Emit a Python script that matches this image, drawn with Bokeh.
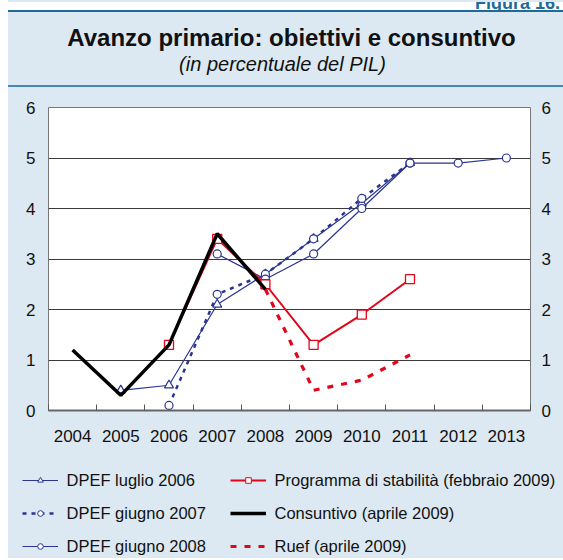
import numpy as np
from bokeh.plotting import figure
from bokeh.models import Range1d, FixedTicker, LinearAxis, Legend, LegendItem, Div, Spacer
from bokeh.layouts import column, row
from bokeh.embed import file_html
from bokeh.resources import INLINE
from bokeh.core.properties import value

# ---------------- data ----------------
years = [2004, 2005, 2006, 2007, 2008, 2009, 2010, 2011, 2012, 2013]
year_labels = ["2004", "2005", "2006", "2007", "2008", "2009", "2010", "2011", "2012", "2013"]
y_ticks = [0, 1, 2, 3, 4, 5, 6]

lug2006_x = [2005, 2006, 2007, 2008, 2009, 2010, 2011]
lug2006_y = [0.4, 0.5, 2.1, 2.7, 3.4, 4.1, 4.9]

giu2007_x = [2006, 2007, 2008, 2009, 2010, 2011]
giu2007_y = [0.1, 2.3, 2.7, 3.4, 4.2, 4.9]

giu2008_x = [2007, 2008, 2009, 2010, 2011, 2012, 2013]
giu2008_y = [3.1, 2.6, 3.1, 4.0, 4.9, 4.9, 5.0]

prog_x = [2006, 2007, 2008, 2009, 2010, 2011]
prog_y = [1.3, 3.4, 2.5, 1.3, 1.9, 2.6]

cons_x = [2004, 2005, 2006, 2007, 2008]
cons_y = [1.2, 0.3, 1.3, 3.5, 2.4]

ruef_x = [2008, 2009, 2010, 2011]
ruef_y = [2.4, 0.4, 0.6, 1.1]

figure_tag = "Figura 16."
title_text = "Avanzo primario: obiettivi e consuntivo"
subtitle_text = "(in percentuale del PIL)"
legend_labels = ["DPEF luglio 2006", "DPEF giugno 2007", "DPEF giugno 2008",
                 "Programma di stabilità (febbraio 2009)", "Consuntivo (aprile 2009)",
                 "Ruef (aprile 2009)"]

# ---------------- styles ----------------
BG = "#dde9f2"
BLUE = "#2a3590"
RED = "#e3051b"
FONT = value("Liberation Sans")

series_styles = [
    dict(line=dict(line_color=BLUE, line_width=1.2),
         marker=dict(marker="triangle", size=9, line_color=BLUE, fill_color="white", line_width=1.2)),
    dict(line=dict(line_color=BLUE, line_width=2.5, line_dash="4 5"),
         marker=dict(marker="circle", size=8, line_color=BLUE, fill_color="white", line_width=1.2)),
    dict(line=dict(line_color=BLUE, line_width=1.2),
         marker=dict(marker="circle", size=8, line_color=BLUE, fill_color="white", line_width=1.2)),
    dict(line=dict(line_color=RED, line_width=2),
         marker=dict(marker="square", size=9, line_color=RED, fill_color="white", line_width=1.3)),
    dict(line=dict(line_color="#000000", line_width=3.5), marker=None),
    dict(line=dict(line_color=RED, line_width=3.2, line_dash="6 8"), marker=None),
]

# ---------------- top strip ----------------
top_div = Div(
    text=('<div style="position:relative;width:555px;height:10px;overflow:hidden;'
          'border-bottom:2px solid #1f6a96;background:#ffffff;">'
          '<span style="position:absolute;right:3px;top:-11px;font-family:\'Liberation Sans\';'
          'font-weight:bold;font-size:18px;color:#1f6a96;white-space:nowrap;">'
          + figure_tag + '</span></div>'),
    width=555, height=12, margin=0)

# ---------------- header ----------------
hdr = figure(width=555, height=73, x_range=Range1d(0, 482), y_range=Range1d(73, 0),
             output_backend="svg", toolbar_location=None,
             x_axis_location=None, y_axis_location=None,
             min_border=0, min_border_left=40, min_border_right=33,
             border_fill_color=BG, background_fill_color=BG,
             outline_line_color=None, margin=0)
hdr.xgrid.visible = False
hdr.ygrid.visible = False
hdr.text(x=[243], y=[25], text=[title_text], text_align="center", text_baseline="middle",
         text_font=FONT, text_font_style="bold", text_font_size="24px", text_color="#111111")
hdr.text(x=[234], y=[51], text=[subtitle_text], text_align="center", text_baseline="middle",
         text_font=FONT, text_font_style="italic", text_font_size="20px", text_color="#111111")

line_div = Div(text="", width=555, height=2, margin=0,
               styles={"background-color": "#4489b3"})

# ---------------- chart ----------------
p = figure(width=555, height=368, x_range=Range1d(2003.5, 2013.5), y_range=Range1d(0, 6),
           output_backend="svg", toolbar_location=None,
           min_border_left=40, min_border_right=33, min_border_top=20, min_border_bottom=45,
           border_fill_color=BG, background_fill_color="white",
           outline_line_color="#777777", margin=0)

yt = FixedTicker(ticks=y_ticks)
p.yaxis.ticker = yt
p.ygrid.ticker = yt
p.ygrid.grid_line_color = "#3a3a3a"
p.xgrid.visible = False

ry = LinearAxis(ticker=yt)
p.add_layout(ry, "right")
for ax in [p.yaxis[0], ry]:
    ax.major_tick_line_color = None
    ax.minor_tick_line_color = None
    ax.major_tick_in = 0
    ax.major_tick_out = 0
    ax.axis_line_color = None
    ax.major_label_text_font = "Liberation Sans"
    ax.major_label_text_font_size = "17px"
    ax.major_label_text_color = "#111111"
p.yaxis[0].major_label_standoff = 13
ry.major_label_standoff = 11

xa = p.xaxis[0]
xa.ticker = FixedTicker(ticks=years, minor_ticks=[y - 0.5 for y in years] + [years[-1] + 0.5])
xa.major_label_overrides = {y: l for y, l in zip(years, year_labels)}
xa.major_tick_line_color = None
xa.major_tick_in = 0
xa.major_tick_out = 0
xa.minor_tick_in = 6
xa.minor_tick_out = 0
xa.minor_tick_line_color = "#555555"
xa.axis_line_color = "#666666"
xa.axis_line_width = 2
xa.major_label_standoff = 19
xa.major_label_text_font = "Liberation Sans"
xa.major_label_text_font_size = "17px"
xa.major_label_text_color = "#111111"

# series (draw order: blue, red, ruef, black on top)
series_data = [(lug2006_x, lug2006_y), (giu2007_x, giu2007_y), (giu2008_x, giu2008_y),
               (prog_x, prog_y), (cons_x, cons_y), (ruef_x, ruef_y)]
draw_order = [0, 1, 2, 3, 5, 4]
for i in draw_order:
    xs, ys = series_data[i]
    st = series_styles[i]
    p.line(xs, ys, **st["line"])
    if st["marker"] is not None:
        p.scatter(xs, ys, **st["marker"])

# ---------------- legend (own panel) ----------------
leg_fig = figure(width=555, height=103, x_range=Range1d(0, 1), y_range=Range1d(0, 1),
                 output_backend="svg", toolbar_location=None,
                 x_axis_location=None, y_axis_location=None, min_border=0,
                 border_fill_color=BG, background_fill_color=BG,
                 outline_line_color=None, margin=0)
leg_fig.xgrid.visible = False
leg_fig.ygrid.visible = False

# legend swatches: renderers that carry no drawable point (NaN), only their styles
nan_pt = np.array([np.nan])
items = []
for i, lab in enumerate(legend_labels):
    st = series_styles[i]
    line_kw = dict(st["line"])
    line_kw["line_width"] = min(line_kw["line_width"], 3.0) if i != 4 else 3.5
    rs = [leg_fig.line(x=nan_pt, y=nan_pt, **line_kw)]
    if st["marker"] is not None:
        mk = dict(st["marker"])
        mk["size"] = 5
        mk["line_width"] = 1.0
        rs.append(leg_fig.scatter(x=nan_pt, y=nan_pt, **mk))
    items.append(LegendItem(label=lab, renderers=rs))

leg = Legend(items=items, location=(13.5, 1), orientation="vertical", nrows=3,
             glyph_width=36, glyph_height=14, label_height=22, label_width=152,
             label_standoff=9, spacing=11, padding=0, margin=0,
             border_line_color=None, background_fill_alpha=0,
             label_text_font="Liberation Sans", label_text_font_size="16.5px",
             label_text_color="#111111")
leg_fig.add_layout(leg)

body = column(column(top_div, hdr, line_div, p, spacing=0), leg_fig, spacing=0,
              styles={"background-color": BG})
layout = row(Spacer(width=8, height=558, margin=0), body, spacing=0)
open("out.html", "w").write(file_html(layout, INLINE))
